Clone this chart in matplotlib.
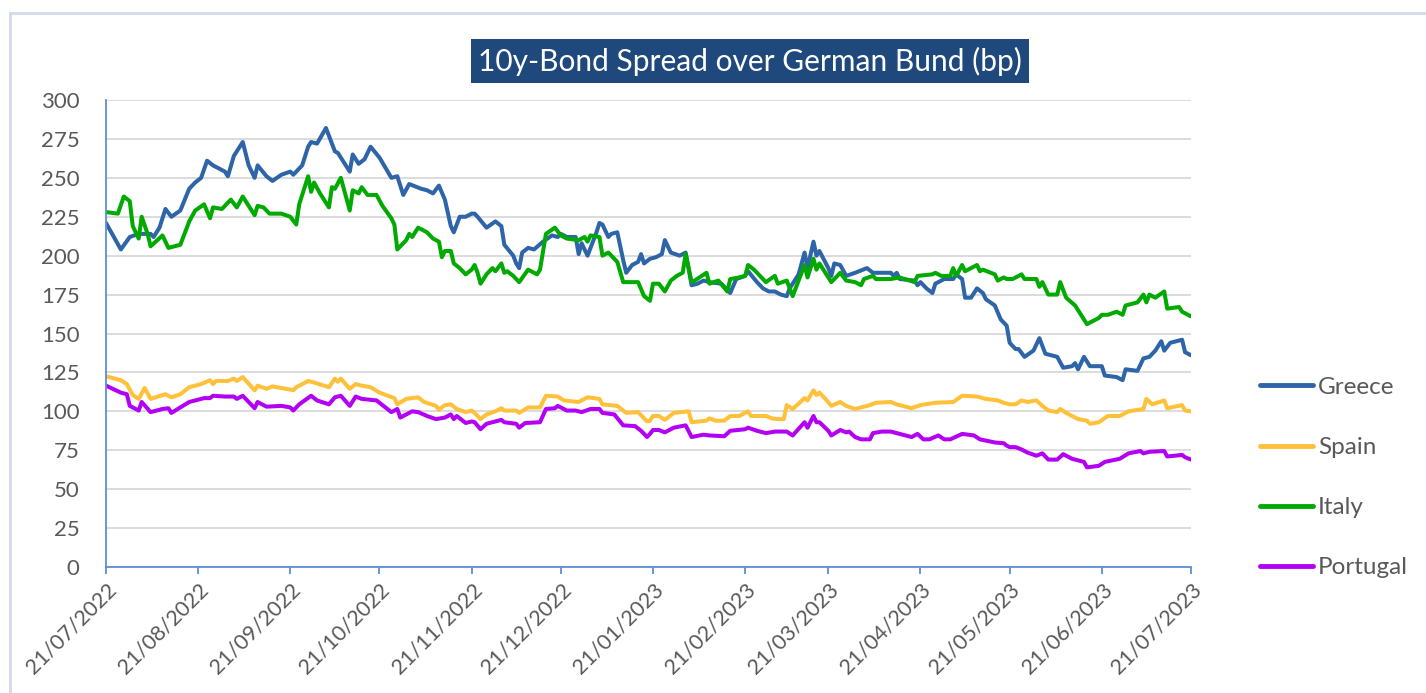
import pandas as pd
import matplotlib.pyplot as plt
import matplotlib.dates as mdates
from matplotlib.lines import Line2D

# Valores: dias desde 21/07/2022 y spread en pb
start = pd.Timestamp("2022-07-21")

greece_days = [0, 5, 8, 11, 15, 16, 18, 20, 22, 25, 28, 30, 32, 34, 36, 40, 41, 43, 46, 48,
               50, 51, 54, 56, 59, 62, 63, 66, 68, 69, 71, 74, 77, 78, 82, 83, 85, 87, 89, 92,
               96, 98, 100, 102, 106, 108, 110, 112, 114, 116, 117, 119, 121, 123, 124, 125, 128, 131, 133, 134,
               137, 138, 139, 140, 142, 144, 147, 150, 152, 153, 155, 158, 159, 160, 162, 165, 166, 167, 169, 170,
               172, 174, 175, 177, 179, 180, 181, 183, 185, 187, 188, 190, 193, 195, 197, 199, 201, 203, 207, 210,
               212, 215, 216, 219, 221, 223, 225, 227, 229, 230, 233, 235, 236, 238, 239, 240, 243, 244, 245, 247,
               249, 252, 256, 258, 264, 265, 266, 267, 272, 273, 274, 276, 278, 279, 282, 285, 286, 288, 289, 291,
               293, 295, 296, 299, 301, 303, 304, 306, 307, 309, 312, 314, 316, 320, 322, 325, 326, 327, 329, 331,
               335, 336, 340, 342, 343, 347, 349, 351, 353, 355, 356, 358, 362, 363, 365]
greece = [221, 204, 212, 214, 214, 212, 218, 230, 225, 229, 243, 247, 250, 261, 258, 254, 251, 264, 273, 258,
          250, 258, 251, 248, 252, 254, 252, 258, 270, 273, 272, 282, 267, 266, 254, 265, 259, 262, 270, 263,
          250, 251, 239, 246, 243, 242, 240, 245, 236, 219, 215, 225, 225, 227, 227, 225, 218, 222, 219, 207,
          200, 195, 192, 202, 205, 204, 209, 213, 212, 214, 212, 212, 201, 208, 200, 215, 221, 220, 212, 214,
          215, 197, 189, 194, 196, 201, 195, 198, 199, 201, 210, 202, 200, 202, 181, 182, 184, 183, 182, 176,
          185, 187, 190, 183, 179, 177, 177, 175, 174, 179, 188, 202, 192, 209, 200, 203, 192, 187, 195, 194,
          187, 189, 192, 189, 189, 187, 189, 185, 184, 181, 183, 179, 176, 182, 185, 185, 188, 185, 173, 173,
          179, 176, 172, 168, 159, 155, 144, 140, 140, 135, 139, 147, 137, 135, 128, 129, 131, 127, 135, 129,
          129, 123, 122, 120, 127, 126, 134, 135, 139, 145, 139, 144, 146, 138, 136]

italy_days = [0, 4, 6, 8, 9, 11, 12, 14, 15, 19, 21, 25, 28, 30, 33, 35, 36, 39, 42, 44,
              46, 50, 51, 53, 55, 59, 62, 64, 65, 68, 69, 70, 72, 75, 76, 77, 79, 82, 83, 85,
              86, 88, 91, 93, 96, 97, 98, 101, 102, 103, 105, 108, 110, 112, 113, 114, 116, 117, 119, 121,
              123, 124, 125, 126, 128, 130, 131, 133, 134, 135, 137, 139, 142, 145, 146, 148, 151, 153, 155, 159,
              161, 162, 163, 166, 167, 169, 172, 174, 179, 181, 183, 184, 186, 188, 190, 192, 194, 195, 197, 198,
              202, 203, 206, 209, 210, 213, 215, 216, 218, 222, 225, 226, 229, 231, 235, 236, 238, 239, 240, 244,
              247, 249, 252, 254, 255, 258, 259, 264, 267, 272, 273, 278, 279, 281, 284, 285, 286, 288, 289, 293,
              294, 295, 299, 300, 302, 303, 305, 308, 309, 313, 314, 315, 317, 320, 321, 323, 326, 328, 330, 334,
              335, 337, 340, 342, 343, 347, 349, 350, 351, 353, 356, 357, 361, 362, 365]
italy = [228, 227, 238, 235, 219, 211, 225, 214, 206, 213, 205, 207, 222, 229, 233, 224, 231, 230, 236, 231,
         238, 226, 232, 231, 227, 227, 225, 220, 233, 251, 241, 247, 240, 231, 244, 243, 250, 229, 242, 240,
         244, 239, 239, 232, 224, 220, 204, 210, 214, 212, 218, 215, 211, 209, 199, 203, 203, 195, 192, 188,
         191, 194, 189, 182, 188, 192, 190, 195, 189, 190, 187, 183, 191, 188, 191, 214, 218, 213, 211, 210,
         212, 209, 213, 212, 200, 202, 196, 183, 183, 174, 171, 182, 182, 177, 184, 187, 189, 201, 183, 184,
         189, 182, 184, 177, 185, 186, 187, 194, 191, 183, 187, 182, 184, 174, 194, 186, 198, 191, 195, 183,
         189, 184, 183, 181, 185, 187, 185, 185, 186, 183, 187, 188, 189, 187, 187, 192, 187, 194, 190, 194,
         190, 191, 188, 184, 186, 185, 185, 188, 185, 185, 180, 183, 175, 175, 183, 173, 168, 162, 156, 160,
         162, 162, 164, 162, 168, 170, 175, 170, 175, 173, 177, 166, 167, 164, 161]

spain_days = [0, 5, 7, 9, 11, 13, 15, 20, 22, 25, 28, 32, 35, 36, 37, 41, 43, 44, 46, 50,
              51, 54, 56, 62, 63, 64, 68, 70, 75, 77, 78, 79, 82, 84, 86, 89, 92, 97, 98, 101,
              105, 107, 111, 112, 114, 116, 118, 121, 123, 124, 126, 128, 131, 133, 134, 138, 139, 142, 146, 148,
              152, 154, 159, 162, 166, 167, 172, 175, 179, 182, 183, 184, 186, 188, 191, 196, 197, 202, 203, 205,
              208, 210, 213, 216, 217, 222, 224, 226, 228, 229, 231, 235, 236, 238, 239, 240, 242, 244, 247, 249,
              252, 254, 257, 259, 264, 266, 271, 274, 279, 285, 288, 293, 296, 300, 302, 304, 306, 308, 310, 313,
              315, 317, 320, 321, 323, 327, 330, 331, 334, 337, 341, 344, 349, 350, 352, 356, 357, 362, 363, 365]
spain = [122.5, 120, 117.5, 110.5, 108, 115, 108, 111, 109, 111, 115.5, 117.5, 120, 117.5, 119.5, 119.5, 121, 119.5, 122, 113.5,
         116.5, 114.5, 116, 114, 113.5, 115.5, 119.5, 118.5, 115.5, 121, 119, 121, 114.5, 117.5, 116.5, 115.5, 112, 108.5, 104.5, 108,
         109, 106, 103.5, 101, 104, 104.5, 101.5, 99.5, 100.5, 99, 95, 98, 100, 102, 100.5, 100.5, 99, 102.5, 102.5, 110,
         109.5, 107, 106, 109, 108, 104.5, 103.5, 99, 99.5, 93.5, 94, 97, 97, 94.5, 99, 100, 93, 94, 95.5, 94,
         94, 97, 97, 100, 97, 97, 95.5, 95, 95, 104, 101.5, 108.5, 107, 113.5, 110.5, 112, 108, 103.5, 106, 103.5,
         101.5, 102.5, 104, 105.5, 106, 104.5, 102, 104, 105.5, 106, 110, 109.5, 108, 107, 105.5, 104.5, 104.5, 107, 106, 107,
         103.5, 100.5, 99.5, 101.5, 99, 95, 94, 92, 93, 97, 97, 100, 101.5, 108, 104.5, 107, 102, 104, 100.5, 100]

portugal_days = [0, 5, 7, 8, 11, 12, 15, 19, 21, 22, 25, 28, 33, 35, 36, 40, 43, 44, 46, 50,
                 51, 54, 59, 62, 63, 65, 69, 71, 75, 77, 79, 82, 84, 86, 91, 96, 98, 99, 103, 105,
                 108, 111, 114, 116, 117, 118, 121, 123, 124, 126, 128, 131, 133, 134, 138, 139, 141, 146, 148, 151,
                 152, 155, 158, 160, 163, 166, 167, 171, 174, 178, 180, 182, 183, 184, 186, 188, 191, 195, 197, 201,
                 203, 208, 210, 215, 216, 219, 222, 225, 229, 231, 235, 236, 238, 239, 240, 243, 244, 247, 249, 250,
                 252, 254, 257, 258, 261, 264, 267, 271, 273, 275, 277, 280, 282, 284, 288, 292, 294, 299, 302, 303,
                 304, 306, 308, 310, 313, 315, 317, 320, 322, 325, 329, 330, 334, 336, 341, 344, 348, 349, 351, 356,
                 357, 362, 363, 365]
portugal = [116.5, 112, 111, 103.5, 100.5, 106, 99.5, 101.5, 102, 99, 102.5, 106, 108.5, 108.5, 110, 109.5, 109.5, 108, 110, 102,
            106, 103, 103.5, 102.5, 100.5, 104.5, 110, 107, 104.5, 109, 110, 103.5, 109.5, 108, 107, 99.5, 101.5, 96, 100, 99.5,
            97, 95, 96, 98, 95, 97, 92.5, 93.5, 93, 88.5, 92, 93.5, 94.5, 93, 92, 89.5, 92.5, 93, 101.5, 102,
            103.5, 100.5, 100.5, 99.5, 101.5, 101.5, 99, 98, 91, 90.5, 87.5, 83.5, 85.5, 88, 88, 86.5, 89.5, 91, 83.5, 85,
            84.5, 84, 87.5, 88.5, 89.5, 87.5, 86, 87, 87, 84.5, 93, 89.5, 97, 93, 93, 87.5, 84.5, 88, 86.5, 87,
            83.5, 82, 82, 86, 87, 87, 85.5, 83.5, 85.5, 82, 82, 84.5, 82, 82, 85.5, 84.5, 82, 80, 79.5, 78,
            77, 77, 75.5, 73.5, 71.5, 73, 69, 69, 72.5, 69.5, 67.5, 64, 65, 67.5, 69.5, 73, 74.5, 73, 74, 74.5,
            71, 72, 70.5, 69]

series = [
    ("Greece", greece_days, greece, "#2E64A8"),
    ("Spain", spain_days, spain, "#FFC03A"),
    ("Italy", italy_days, italy, "#00AA00"),
    ("Portugal", portugal_days, portugal, "#B300F5"),
]

y_ticks = list(range(0, 301, 25))
x_ticks = pd.date_range("2022-07-21", periods=13, freq=pd.DateOffset(months=1))

plt.rcParams['font.family'] = ['Lato', 'DejaVu Sans']
text_color = "#595959"

fig = plt.figure(figsize=(14.26, 6.93), dpi=100)
ax = fig.add_axes([106 / 1426, 1 - 567 / 693, (1191 - 106) / 1426, (567 - 100) / 693])

for name, days, vals, color in series:
    dates = start + pd.to_timedelta(days, unit="D")
    ax.plot(dates, vals, color=color, lw=2.9, label=name, solid_capstyle="round", solid_joinstyle="round")

ax.set_ylim(0, 300)
ax.set_xlim(x_ticks[0], x_ticks[-1])
ax.set_yticks(y_ticks)
ax.set_xticks(x_ticks)
ax.xaxis.set_major_formatter(mdates.DateFormatter("%d/%m/%Y"))
ax.grid(axis="y", color="#D9D9D9", lw=1.3)
ax.set_axisbelow(True)

for s in ["top", "right"]:
    ax.spines[s].set_visible(False)
for s in ["left", "bottom"]:
    ax.spines[s].set_color("#5B8FD8")
    ax.spines[s].set_linewidth(1.3)

ax.tick_params(axis="y", length=0, labelsize=16, labelcolor=text_color, pad=19)
ax.tick_params(axis="x", length=5, color="#5B8FD8", width=1.3, labelsize=15.5, labelcolor=text_color, pad=4)
for lbl in ax.get_xticklabels():
    lbl.set_rotation(45)
    lbl.set_ha("right")
    lbl.set_rotation_mode("anchor")

# Titulo en caja azul
fig.text(750 / 1426, 1 - 61 / 693, "10y-Bond Spread over German Bund (bp)", ha="center", va="center",
         fontsize=21.5, color="white",
         bbox=dict(boxstyle="square,pad=0.25", facecolor="#1F497D", edgecolor="none"))

# Leyenda a la derecha
leg = fig.legend(loc="upper left", bbox_to_anchor=(1238 / 1426, 1 - 355 / 693), frameon=False,
                 fontsize=17.5, handlelength=2.2, handletextpad=0.2, labelspacing=1.61, labelcolor=text_color)
for h in leg.get_lines():
    h.set_linewidth(3.5)

# Borde del grafico
fig.add_artist(Line2D([10 / 1426, 1], [1 - 13 / 693, 1 - 13 / 693], color="#D4D9E8", lw=2))
fig.add_artist(Line2D([10 / 1426, 10 / 1426], [0, 1 - 13 / 693], color="#D4D9E8", lw=2))

plt.savefig("out.png", dpi=100)
